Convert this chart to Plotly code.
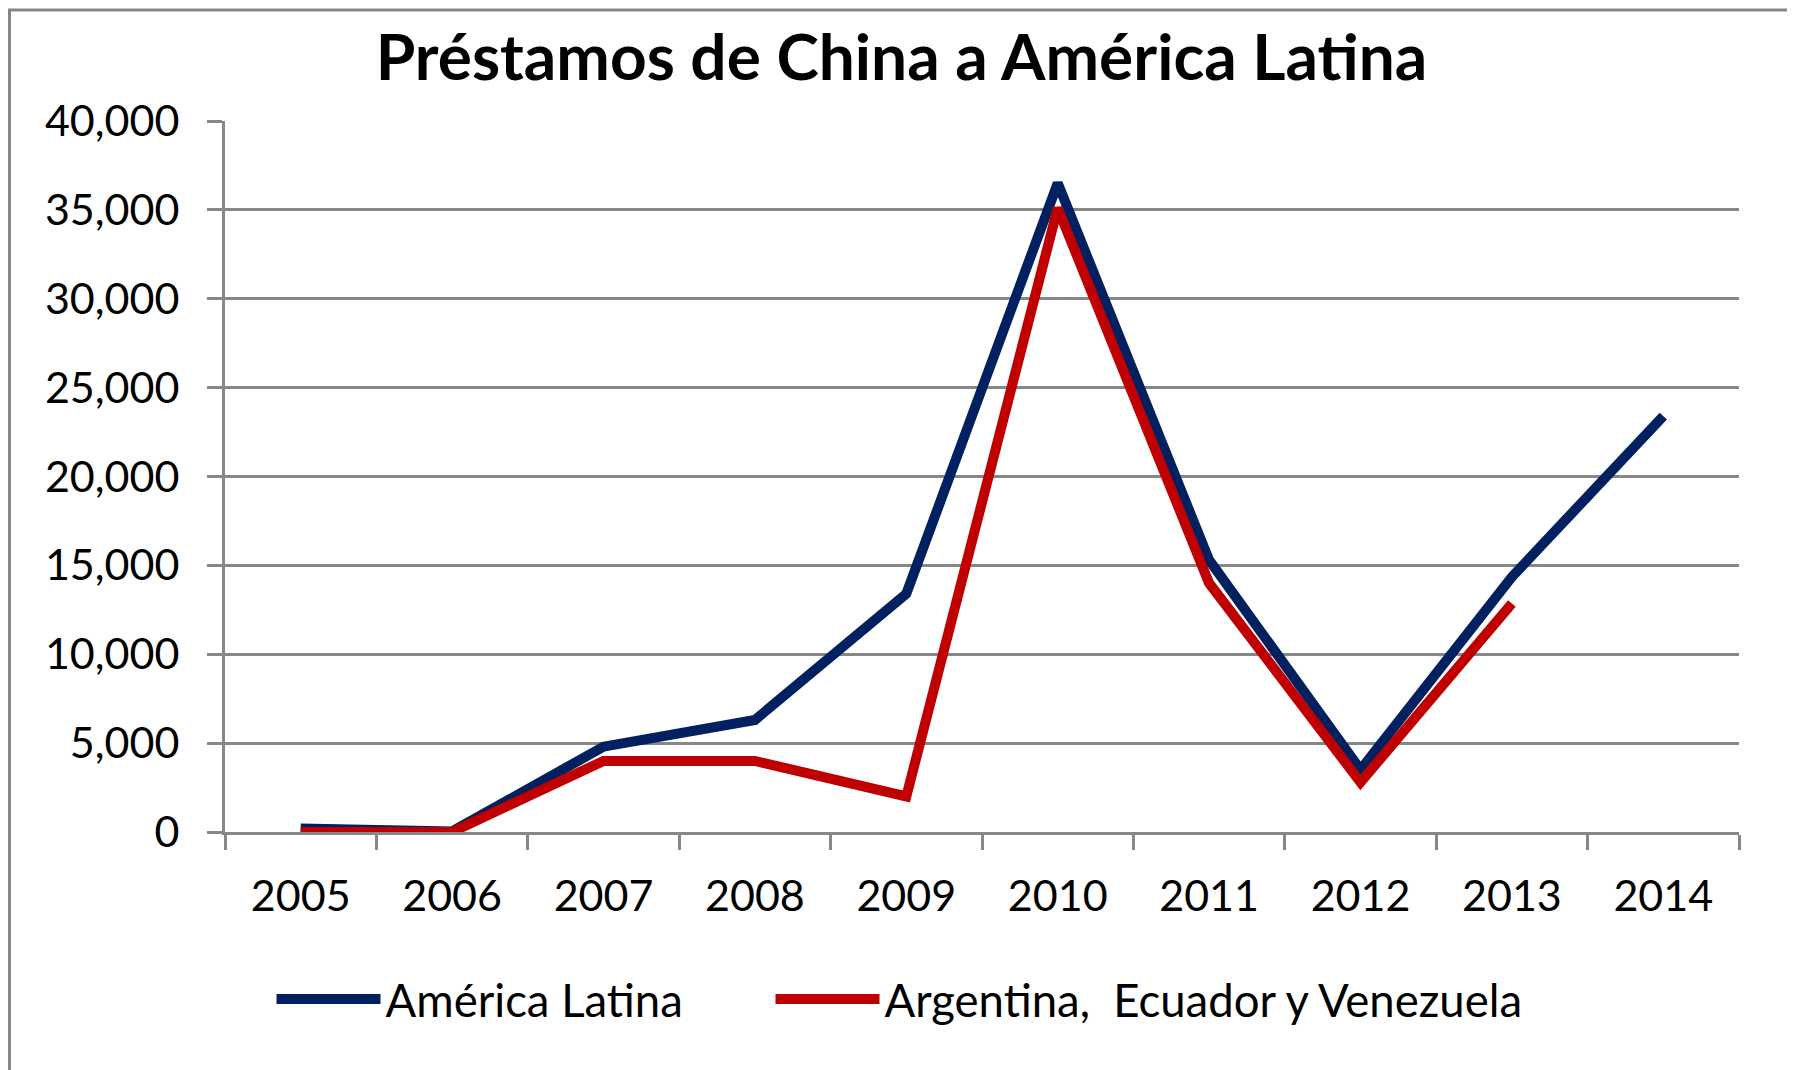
import plotly.graph_objects as go

years = ["2005", "2006", "2007", "2008", "2009", "2010", "2011", "2012", "2013", "2014"]
america_latina = [200, 30, 4800, 6300, 13400, 36500, 15300, 3500, 14350, 23400]
arg_ecu_ven = [0, 0, 4000, 4000, 2000, 35100, 14000, 2800, 12850, None]
y_ticks = [0, 5000, 10000, 15000, 20000, 25000, 30000, 35000, 40000]
y_tick_labels = ["0", "5,000", "10,000", "15,000", "20,000", "25,000", "30,000", "35,000", "40,000"]

BLUE = "#002060"
RED = "#C00000"
GRID = "#878787"
FONT = "Lato"

W, H = 1787, 1062
L, R, T, B = 217, 56, 112.5, 237.7
PW = W - L - R
PH = H - T - B


def px(xfig):
    return (xfig - L) / PW


def py(yfig):
    return (H - B - yfig) / PH


fig = go.Figure()
fig.add_trace(go.Scatter(x=years, y=america_latina, mode="lines", name="América Latina",
                         line=dict(color=BLUE, width=10), legend="legend"))
fig.add_trace(go.Scatter(x=years, y=arg_ecu_ven, mode="lines", name="Argentina,  Ecuador y Venezuela",
                         line=dict(color=RED, width=10), legend="legend2"))

legend_common = dict(orientation="h", xanchor="left", yanchor="middle", y=py(992),
                     font=dict(family=FONT, size=45.5), itemwidth=104, bgcolor="rgba(0,0,0,0)")

fig.update_layout(
    width=W, height=H,
    margin=dict(l=L, r=R, t=T, b=B, autoexpand=False),
    paper_bgcolor="white", plot_bgcolor="white",
    font=dict(family=FONT, color="black", size=43),
    title=dict(text="<b>Préstamos de China a América Latina</b>", x=0.5, xanchor="center",
               y=1 - 50 / H, yanchor="middle", font=dict(family=FONT, size=64, color="black")),
    showlegend=True,
    legend=dict(x=px(263.5), **legend_common),
    legend2=dict(x=px(762.5), **legend_common),
    xaxis=dict(type="category", range=[-0.5, 9.5], tickson="boundaries", ticks="outside", ticklen=15,
               tickwidth=3, tickcolor=GRID, showline=True, linecolor=GRID, linewidth=3, showgrid=False,
               tickfont=dict(family=FONT, size=43), ticklabelstandoff=24),
    yaxis=dict(range=[0, 40000], tickvals=y_ticks, ticktext=y_tick_labels, ticks="outside",
               ticklen=15, tickwidth=3, tickcolor=GRID, showline=True, linecolor=GRID, linewidth=3,
               showgrid=True, gridcolor=GRID, gridwidth=2.5, zeroline=False,
               tickfont=dict(family=FONT, size=43), ticklabelstandoff=19),
)

fig.add_shape(type="rect", xref="paper", yref="paper",
              x0=px(1.5), x1=px(1782.5), y0=-0.6, y1=py(1.5),
              line=dict(color=GRID, width=3), fillcolor="rgba(0,0,0,0)", layer="below")

fig.write_html("out.html")
